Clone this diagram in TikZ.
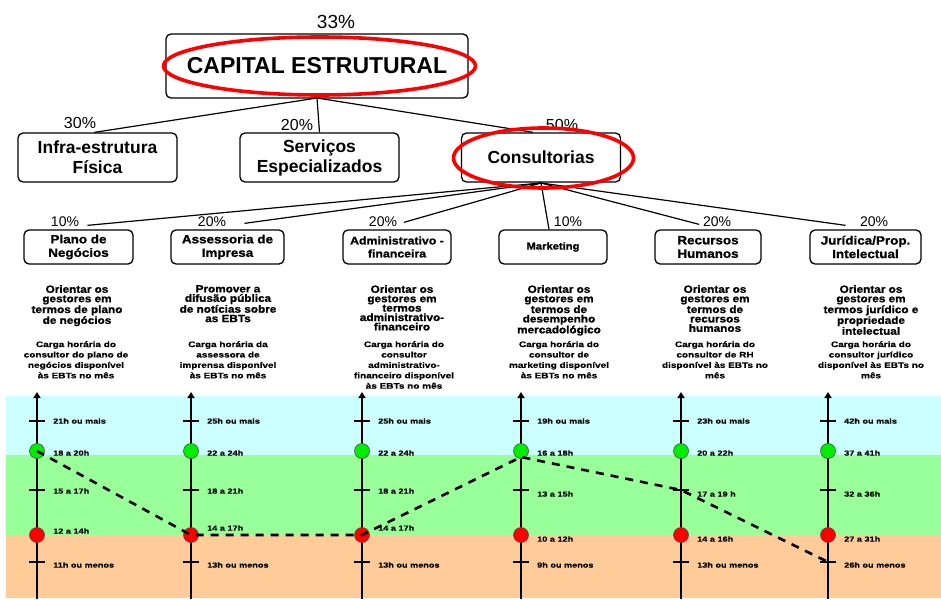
\documentclass[tikz,border=0pt]{standalone}
\usepackage{fontspec}
\setmainfont{Liberation Sans}
\newfontfamily\heavyfont[FakeStretch=1.12,FakeBold=1.2]{Liberation Sans Bold}
\newfontfamily\widefont[FakeStretch=1.25,FakeBold=0.5]{Liberation Sans Bold}
\usetikzlibrary{arrows.meta}

\definecolor{bandhigh}{HTML}{CCFFFF}
\definecolor{bandmid}{HTML}{99FF99}
\definecolor{bandlow}{HTML}{FFCC99}
\definecolor{dotgreen}{HTML}{00EE00}
\definecolor{dotred}{HTML}{FF0000}

\tikzset{
  box/.style={draw, rounded corners=5pt, line width=1.3pt, align=center,
    inner sep=0pt, fill=white},
  ring/.style={draw=red, line width=3.6pt},
  link/.style={line width=1.2pt},
  pctbig/.style={font=\fontsize{19}{19}\selectfont, inner sep=0pt},
  pctmid/.style={font=\fontsize{16}{16}\selectfont, inner sep=0pt},
  pctsmall/.style={font=\fontsize{14}{14}\selectfont, inner sep=0pt},
  lvltwo/.style={box, minimum width=159pt, minimum height=49pt,
    font=\bfseries\fontsize{17.5}{20}\selectfont},
  lvlthree/.style={box, minimum height=34pt,
    font=\heavyfont\fontsize{12}{13.5}\selectfont},
  goal/.style={anchor=north, align=center, inner sep=0pt,
    font=\heavyfont\fontsize{10.5}{9.4}\selectfont},
  hours/.style={anchor=north, align=center, inner sep=0pt,
    font=\widefont\fontsize{8}{10.4}\selectfont},
  axis/.style={line width=2.6pt, -{Triangle[width=7pt,length=6pt]}},
  tickmark/.style={line width=2pt},
  level/.style={anchor=west, inner sep=0pt,
    font=\widefont\fontsize{7.3}{8}\selectfont},
  dot/.style={circle, draw=black!70, line width=0.6pt, minimum width=15pt,
    minimum height=14pt, inner sep=0pt},
  trend/.style={line width=2.6pt, dash pattern=on 8pt off 7pt}
}

\begin{document}
\begin{tikzpicture}[x=1pt, y=-1pt]
\useasboundingbox (0,0) rectangle (941,599);

% rating bands behind the hour scales
\fill[bandhigh] (6,396) rectangle (941,455);
\fill[bandmid]  (6,455) rectangle (941,536);
\fill[bandlow]  (6,536) rectangle (941,598);

% hierarchy: top level
\node[box, minimum width=302pt, minimum height=64pt,
  font=\bfseries\fontsize{23}{23}\selectfont] (cap) at (317,66) {CAPITAL ESTRUTURAL};
\node[pctbig] (pcap) at (336,22) {33\%};

% second level
\node[lvltwo] (infra) at (97.5,157.5) {Infra-estrutura\\Física};
\node[lvltwo] (serv)  at (319.5,157.5) {Serviços\\Especializados};
\node[lvltwo] (cons)  at (541,157.5) {Consultorias};
\node[pctmid] (pinfra) at (80,123) {30\%};
\node[pctmid] (pserv)  at (297,125) {20\%};
\node[pctmid] (pcons)  at (562,125) {50\%};

\coordinate (capfoot) at (317,98);
\draw[link] (capfoot) -- ([xshift=-3pt]infra.north);
\draw[link] (capfoot) -- (serv.north);
\draw[link] (capfoot) -- ([xshift=-8pt]cons.north);

% third level
\node[lvlthree, minimum width=109pt] (plano) at (78.5,247) {Plano de\\Negócios};
\node[lvlthree, minimum width=113pt] (asses) at (227.5,247) {Assessoria de\\Impresa};
\node[lvlthree, minimum width=108pt, font=\heavyfont\fontsize{11}{13}\selectfont]
  (admin) at (397,247) {Administrativo -\\financeira};
\node[lvlthree, minimum width=108pt, font=\heavyfont\fontsize{10}{12}\selectfont]
  (mkt) at (553,247) {Marketing};
\node[lvlthree, minimum width=106pt] (rh) at (708,247) {Recursos\\Humanos};
\node[lvlthree, minimum width=111pt] (jur) at (865.5,247) {Jurídica/Prop.\\Intelectual};

\node[pctsmall] (pplano) at (65,222) {10\%};
\node[pctsmall] (passes) at (212,222) {20\%};
\node[pctsmall] (padmin) at (383,222) {20\%};
\node[pctsmall] (pmkt)   at (568,222) {10\%};
\node[pctsmall] (prh)    at (717,222) {20\%};
\node[pctsmall] (pjur)   at (874,222) {20\%};

\coordinate (consfoot) at (541,183);
\draw[link] (consfoot) -- ([xshift=9pt,yshift=4pt]plano.north);
\draw[link] (consfoot) -- ([xshift=17pt,yshift=6pt]asses.north);
\draw[link] (consfoot) -- ([xshift=7pt,yshift=7pt]admin.north);
\draw[link] (consfoot) -- ([xshift=-4pt]mkt.north);
\draw[link] (consfoot) -- ([xshift=-9pt,yshift=5pt]rh.north);
\draw[link] (consfoot) -- ([xshift=-20pt,yshift=4pt]jur.north);

% highlight rings
\draw[ring] (319.5,66) ellipse [x radius=156, y radius=29];
\draw[ring] (543.5,158) ellipse [x radius=90, y radius=30];

% goals of each consultancy
\node[goal] (g1) at (77,285)  {Orientar os\\gestores em\\termos de plano\\de negócios};
\node[goal] (g2) at (228,285) {Promover a\\difusão pública\\de notícias sobre\\as EBTs};
\node[goal] (g3) at (402,285) {Orientar os\\gestores em\\termos\\administrativo-\\financeiro};
\node[goal] (g4) at (559,285) {Orientar os\\gestores em\\termos de\\desempenho\\mercadológico};
\node[goal] (g5) at (715,285) {Orientar os\\gestores em\\termos de\\recursos\\humanos};
\node[goal] (g6) at (871,285) {Orientar os\\gestores em\\termos jurídico e\\propriedade\\intelectual};

% monthly hours descriptions
\node[hours] (h1) at (76,341)  {Carga horária do\\consultor do plano de\\negócios disponível\\às EBTs no mês};
\node[hours] (h2) at (228,341) {Carga horária da\\assessora de\\imprensa disponível\\às EBTs no mês};
\node[hours] (h3) at (404,341) {Carga horária do\\consultor\\administrativo-\\financeiro disponível\\às EBTs no mês};
\node[hours] (h4) at (559,341) {Carga horária do\\consultor de\\marketing disponível\\às EBTs no mês};
\node[hours] (h5) at (715,341) {Carga horária do\\consultor de RH\\disponível às EBTs no\\mês};
\node[hours] (h6) at (871,341) {Carga horária do\\consultor jurídico\\disponível às EBTs no\\mês};

% hour scales
\foreach \n/\x/\my/\ry/\la/\lb/\lc/\ld/\le in {
  1/37/491/531/21h ou mais/18 a 20h/15 a 17h/12 a 14h/11h ou menos,
  2/191/491/528/25h ou mais/22 a 24h/18 a 21h/14 a 17h/13h ou menos,
  3/362/491/528/25h ou mais/22 a 24h/18 a 21h/14 a 17h/13h ou menos,
  4/521/494/539/19h ou mais/16 a 18h/13 a 15h/10 a 12h/9h ou menos,
  5/681/494/539/23h ou mais/20 a 22h/17 a 19 h/14 a 16h/13h ou menos,
  6/828/494/539/42h ou mais/37 a 41h/32 a 36h/27 a 31h/26h ou menos}{
  \coordinate (foot\n) at (\x,599);
  \coordinate (top\n) at (\x,392);
  \coordinate (t\n) at (\x,421);
  \coordinate (g\n) at (\x,451);
  \coordinate (m\n) at (\x,490);
  \coordinate (r\n) at (\x,535);
  \coordinate (b\n) at (\x,562);
  \draw[axis] (foot\n) -- (top\n);
  \foreach \k in {t,m,b}{
    \draw[tickmark] ([xshift=-8pt]\k\n) -- ([xshift=8pt]\k\n);
  }
  \node[dot, fill=dotgreen] (gd\n) at (g\n) {};
  \node[dot, fill=dotred] (rd\n) at (r\n) {};
  \node[level] at (\x+16,421) {\la};
  \node[level] at (\x+16,453) {\lb};
  \node[level] at (\x+16,\my) {\lc};
  \node[level] at (\x+16,\ry) {\ld};
  \node[level] at (\x+16,565) {\le};
}

% profile across the scales
\coordinate (k4) at (521,457);
\draw[trend] (g1) -- (r2) -- (r3) -- (k4) -- (m5) -- (b6);
\end{tikzpicture}
\end{document}
